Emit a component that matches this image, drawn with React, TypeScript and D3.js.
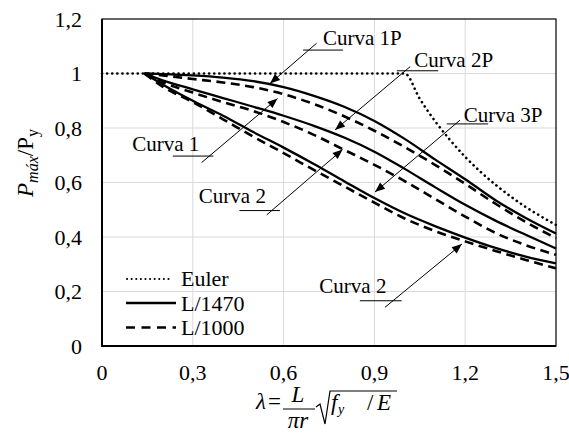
import React from "react";
import * as d3 from "d3";

// ---------- data ----------
const lambdaPts = [0.14, 0.2, 0.3, 0.4, 0.5, 0.6, 0.7, 0.8, 0.9, 1.0, 1.1, 1.2, 1.3, 1.4, 1.5];

// L/1470 (solid)
const curve1P_1470 = [1.0, 0.998, 0.993, 0.985, 0.972, 0.95, 0.918, 0.878, 0.826, 0.76, 0.685, 0.612, 0.535, 0.47, 0.413];
const curve2P_1470 = [1.0, 0.975, 0.942, 0.91, 0.878, 0.845, 0.808, 0.765, 0.713, 0.65, 0.583, 0.518, 0.46, 0.408, 0.358];
const curve3P_1470 = [1.0, 0.96, 0.9, 0.845, 0.785, 0.728, 0.668, 0.605, 0.543, 0.487, 0.44, 0.398, 0.36, 0.328, 0.303];

// L/1000 (dashed)
const curve1P_1000 = [1.0, 0.993, 0.98, 0.967, 0.95, 0.924, 0.888, 0.843, 0.79, 0.73, 0.665, 0.595, 0.522, 0.455, 0.396];
const curve2P_1000 = [1.0, 0.968, 0.93, 0.895, 0.862, 0.822, 0.775, 0.72, 0.665, 0.605, 0.54, 0.475, 0.415, 0.37, 0.335];
const curve3P_1000 = [1.0, 0.952, 0.895, 0.832, 0.768, 0.708, 0.646, 0.586, 0.526, 0.468, 0.422, 0.384, 0.349, 0.316, 0.285];

// Euler
const eulerLambda = [0, 0.5, 1.0, 1.05, 1.1, 1.15, 1.2, 1.25, 1.3, 1.35, 1.4, 1.45, 1.5];
const eulerValues = [1.0, 1.0, 1.0, 0.907, 0.826, 0.756, 0.694, 0.64, 0.592, 0.549, 0.51, 0.476, 0.444];

const xTicks = [0, 0.3, 0.6, 0.9, 1.2, 1.5];
const yTicks = [0, 0.2, 0.4, 0.6, 0.8, 1.0, 1.2];

const legendLabels = ["Euler", "L/1470", "L/1000"];

// annotations in data units: label, text position, underline, line start, arrow tip
const annLabels = ["Curva 1P", "Curva 2P", "Curva 3P", "Curva 1", "Curva 2", "Curva 2"];
const annText = [[0.73, 1.105], [1.032, 1.024], [1.195, 0.822], [0.1, 0.716], [0.32, 0.525], [0.718, 0.194]];
const annUnder = [[0.664, 0.796, 1.086], [0.974, 1.111, 1.010], [1.139, 1.276, 0.815], [0.234, 0.368, 0.697], [0.454, 0.588, 0.497], [0.852, 0.99, 0.166]];
const annStart = [[0.709, 1.111], [1.018, 1.025], [1.183, 0.829], [0.329, 0.673], [0.544, 0.481], [0.935, 0.142]];
const annTip = [[0.555, 0.963], [0.77, 0.793], [0.902, 0.565], [0.58, 0.908], [0.795, 0.721], [1.189, 0.374]];

// ---------- layout ----------
const W = 569, H = 438;
const L = 102, T = 19, R = 556, B = 346;
const TS: React.CSSProperties = { fontFamily: '"Liberation Serif"' };
const TSI: React.CSSProperties = { fontFamily: '"Liberation Serif"', fontStyle: "italic" };

const x = d3.scaleLinear().domain([0, 1.5]).range([L, R]);
const y = d3.scaleLinear().domain([0, 1.2]).range([B, T]);

const fmt = (v: number) => (v === 0 ? "0" : v === 1 ? "1" : d3.format(".1f")(v).replace(".", ","));

const line = d3
  .line<[number, number]>()
  .x((d) => x(d[0]))
  .y((d) => y(d[1]))
  .curve(d3.curveMonotoneX);

const zipPts = (xs: number[], ys: number[]) => xs.map((v, i) => [v, ys[i]] as [number, number]);

export default function App() {
  const solids = [curve1P_1470, curve2P_1470, curve3P_1470];
  const dashes = [curve1P_1000, curve2P_1000, curve3P_1000];

  const arrowHead = (sx: number, sy: number, tx: number, ty: number) => {
    const dx = tx - sx, dy = ty - sy;
    const len = Math.hypot(dx, dy);
    const ux = dx / len, uy = dy / len;
    const hl = 10, hw = 4;
    const bx = tx - ux * hl, by = ty - uy * hl;
    return `M${tx},${ty}L${bx - uy * hw},${by + ux * hw}L${bx + uy * hw},${by - ux * hw}Z`;
  };

  return (
    <svg width={W} height={H} style={{ position: "absolute", left: 0, top: 0, background: "#fff" }}>
      {/* grid */}
      {xTicks.slice(1, -1).map((t) => (
        <line key={"gx" + t} x1={x(t)} x2={x(t)} y1={T} y2={B} stroke="#d9d9d9" strokeWidth={1} />
      ))}
      {yTicks.slice(1, -1).map((t) => (
        <line key={"gy" + t} x1={L} x2={R} y1={y(t)} y2={y(t)} stroke="#d9d9d9" strokeWidth={1} />
      ))}
      {/* frame */}
      <rect x={L} y={T} width={R - L} height={B - T} fill="none" stroke="#000" strokeWidth={1.2} />
      <line x1={L} x2={L} y1={T} y2={B + 1} stroke="#000" strokeWidth={2} />
      <line x1={L - 1} x2={R} y1={B} y2={B} stroke="#000" strokeWidth={2} />

      {/* tick labels */}
      {yTicks.map((t) => (
        <text key={"yt" + t} x={82} y={y(t) + 7.5} fontSize={22} textAnchor="end" style={TS}>
          {fmt(t)}
        </text>
      ))}
      {xTicks.map((t) => (
        <text key={"xt" + t} x={x(t)} y={380} fontSize={22} textAnchor="middle" style={TS}>
          {fmt(t)}
        </text>
      ))}

      {/* Euler */}
      <path d={line(zipPts(eulerLambda, eulerValues)) || ""} fill="none" stroke="#000" strokeWidth={2.6} strokeDasharray="0.1 5" strokeLinecap="round" />
      {/* curves */}
      {solids.map((c, i) => (
        <path key={"s" + i} d={line(zipPts(lambdaPts, c)) || ""} fill="none" stroke="#000" strokeWidth={2.3} />
      ))}
      {dashes.map((c, i) => (
        <path key={"d" + i} d={line(zipPts(lambdaPts, c)) || ""} fill="none" stroke="#000" strokeWidth={2.6} strokeDasharray="9 5.5" />
      ))}

      {/* annotations */}
      {annLabels.map((lab, i) => {
        const sx = x(annStart[i][0]), sy = y(annStart[i][1]);
        const tx = x(annTip[i][0]), ty = y(annTip[i][1]);
        return (
          <g key={"a" + i}>
            <text x={x(annText[i][0])} y={y(annText[i][1])} fontSize={21} style={TS}>
              {lab}
            </text>
            <line x1={x(annUnder[i][0])} x2={x(annUnder[i][1])} y1={y(annUnder[i][2])} y2={y(annUnder[i][2])} stroke="#000" strokeWidth={1} />
            <line x1={sx} y1={sy} x2={tx} y2={ty} stroke="#000" strokeWidth={1} />
            <path d={arrowHead(sx, sy, tx, ty)} fill="#000" />
          </g>
        );
      })}

      {/* legend */}
      <g>
        <line x1={127} x2={172} y1={279} y2={279} stroke="#000" strokeWidth={2} strokeDasharray="0.1 4.5" strokeLinecap="round" />
        <line x1={126} x2={176} y1={303} y2={303} stroke="#000" strokeWidth={2.3} />
        <line x1={126} x2={176} y1={327.5} y2={327.5} stroke="#000" strokeWidth={2.6} strokeDasharray="9 6.5" />
        {legendLabels.map((lab, i) => (
          <text key={lab} x={181} y={286 + i * 24.5} fontSize={22} style={TS}>
            {lab}
          </text>
        ))}
      </g>

      {/* y axis title */}
      <text transform="translate(33,163) rotate(-90)" textAnchor="middle" fontSize={23} style={TS}>
        <tspan style={TSI}>P</tspan>
        <tspan style={TSI} fontSize={16} dy={5}>máx</tspan>
        <tspan style={TS} dy={-5}>/P</tspan>
        <tspan style={TS} fontSize={16} dy={5}>y</tspan>
      </text>

      {/* x axis title */}
      <g fontSize={23}>
        <text x={256} y={409} style={TSI}>λ</text>
        <text x={268} y={409} style={TS}>=</text>
        <text x={298} y={402} style={TSI} textAnchor="middle">L</text>
        <line x1={283} x2={315} y1={409} y2={409} stroke="#000" strokeWidth={1} />
        <text x={298} y={428} style={TSI} textAnchor="middle">πr</text>
        <path d="M316,407 L320,404 L325,424 L330,391 L397,391" fill="none" stroke="#000" strokeWidth={1.2} />
        <text x={331} y={410} style={TSI}>f</text>
        <text x={338} y={414} fontSize={14} style={TSI}>y</text>
        <text x={367} y={410} style={TS}>/</text>
        <text x={377} y={410} style={TSI}>E</text>
      </g>
    </svg>
  );
}
